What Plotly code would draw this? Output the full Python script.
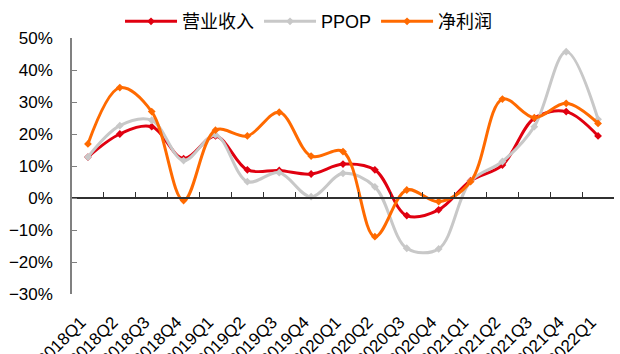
import plotly.graph_objects as go

quarters = ["2018Q1", "2018Q2", "2018Q3", "2018Q4", "2019Q1", "2019Q2", "2019Q3", "2019Q4",
            "2020Q1", "2020Q2", "2020Q3", "2020Q4", "2021Q1", "2021Q2", "2021Q3", "2021Q4", "2022Q1"]

revenue = [12.8, 20.0, 22.3, 12.3, 19.4, 8.8, 8.6, 7.5, 10.6, 8.8, -5.5, -3.7, 5.4, 10.3, 24.9, 27.0, 19.4]
ppop = [12.8, 22.6, 24.3, 11.7, 19.7, 5.1, 7.9, 0.4, 7.7, 3.5, -15.7, -15.9, 5.2, 11.4, 22.3, 45.7, 24.6]
net_profit = [16.9, 34.5, 27.0, -0.8, 21.2, 19.4, 26.8, 13.1, 14.5, -12.1, 2.5, -1.1, 5.1, 30.9, 25.1, 29.6, 23.3]

series = [
    ("营业收入", revenue, "#E00010"),
    ("PPOP", ppop, "#C8C8C8"),
    ("净利润", net_profit, "#FF6A00"),
]

FONT = "Arial, 'Liberation Sans', 'Noto Sans CJK SC', sans-serif"

fig = go.Figure()
for name, vals, color in series:
    fig.add_trace(go.Scatter(
        x=quarters, y=vals, name=name, mode="lines+markers",
        line=dict(color=color, width=3, shape="spline", smoothing=1.0),
        marker=dict(symbol="diamond", size=6, color=color),
    ))

# invisible helper trace so the zero-line axis has data to anchor to
fig.add_trace(go.Scatter(x=quarters, y=[None] * len(quarters), xaxis="x2",
                         showlegend=False, hoverinfo="skip"))

fig.update_layout(
    width=620, height=354,
    margin=dict(l=72, r=6, t=38, b=60, autoexpand=False),
    paper_bgcolor="white", plot_bgcolor="white",
    font=dict(family=FONT, size=17, color="#000000"),
    legend=dict(orientation="h", x=0.0886, xanchor="left", y=1.064, yanchor="middle",
                font=dict(size=18), bgcolor="rgba(0,0,0,0)", itemwidth=52),
    xaxis=dict(
        type="category", range=[-0.5, len(quarters) - 0.5], automargin=False,
        showline=False, showgrid=False, zeroline=False, ticks="",
        tickangle=-45, tickfont=dict(size=17), ticklabelstandoff=14, ticklabelshift=-7,
    ),
    xaxis2=dict(
        type="category", overlaying="x", anchor="free", position=30 / 80, side="bottom",
        range=[-0.5, len(quarters) - 0.5], matches="x",
        showline=True, linecolor="#303030", linewidth=1.5,
        ticks="inside", tickson="boundaries", ticklen=5, tickcolor="#303030",
        showticklabels=False, showgrid=False,
    ),
    yaxis=dict(
        range=[-30, 50], dtick=10, ticksuffix="%", automargin=False,
        showline=True, linecolor="#808080", linewidth=1.5,
        ticks="inside", ticklen=5, tickcolor="#808080",
        showgrid=False, zeroline=False, ticklabelstandoff=14,
        tickfont=dict(size=17),
    ),
)

fig.write_html("out.html")
